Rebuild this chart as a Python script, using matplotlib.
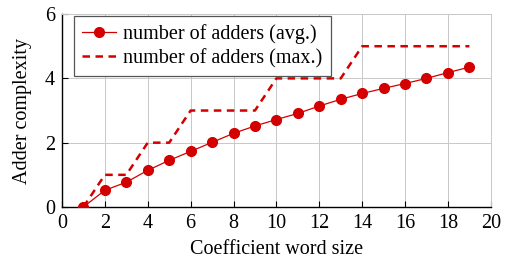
import matplotlib
matplotlib.use('Agg')
import matplotlib.pyplot as plt

# ── Data ──────────────────────────────────────────────────────────────────────
word_size = [1, 2, 3, 4, 5, 6, 7, 8, 9, 10, 11, 12, 13, 14, 15, 16, 17, 18, 19]
adders_avg = [0.0, 0.52, 0.77, 1.14, 1.45, 1.73, 2.01, 2.29, 2.52, 2.72,
              2.91, 3.14, 3.35, 3.53, 3.69, 3.84, 4.0, 4.18, 4.35]
adders_max = [0, 1, 1, 2, 2, 3, 3, 3, 3, 4, 4, 4, 4, 5, 5, 5, 5, 5, 5]

RED = '#d40000'
FS = 14.5

plt.rcParams['font.family'] = ['Liberation Serif', 'DejaVu Serif']

fig = plt.figure(figsize=(5.06, 2.61), dpi=100)
ax = fig.add_axes([0.1225, 0.207, 0.8475, 0.739])

ax.plot(word_size, adders_avg, color=RED, lw=0.9, marker='o', ms=7,
        label='number of adders (avg.)', zorder=3)
ax.plot(word_size, adders_max, color=RED, lw=1.8, ls=(0, (3, 2.2)),
        label='number of adders (max.)', zorder=3)

ax.set_xlim(0, 20)
ax.set_ylim(0, 6)
ax.set_xticks(range(0, 21, 2))
ax.set_yticks(range(0, 7, 2))
ax.grid(True, color='#c8c8c8', lw=0.7)
ax.set_axisbelow(True)

for s in ('top', 'right'):
    ax.spines[s].set_color('#c8c8c8')
    ax.spines[s].set_linewidth(0.7)
for s in ('left', 'bottom'):
    ax.spines[s].set_linewidth(1.0)
ax.tick_params(direction='in', length=4, width=0.8, labelsize=FS,
               top=False, right=False, pad=5)

ax.set_xlabel('Coefficient word size', fontsize=FS, labelpad=5)
ax.set_ylabel('Adder complexity', fontsize=FS, labelpad=9)

leg = ax.legend(loc='upper left', bbox_to_anchor=(0.028, 0.991),
                fontsize=FS, frameon=True, fancybox=False,
                borderaxespad=0, handlelength=1.7, borderpad=0.4,
                labelspacing=0.25, handletextpad=0.35)
leg.get_frame().set_edgecolor('#555555')
leg.get_frame().set_linewidth(0.9)
leg.get_frame().set_alpha(1.0)

fig.savefig('out.png', dpi=100, facecolor='white')
